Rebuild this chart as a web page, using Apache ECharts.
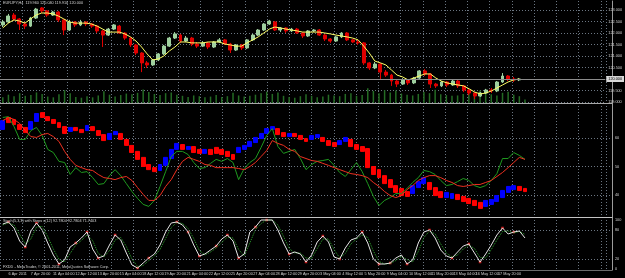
<!DOCTYPE html>
<html><head><meta charset="utf-8">
<script src="https://cdn.jsdelivr.net/npm/echarts@6/dist/echarts.min.js"></script>
<style>html,body{margin:0;padding:0;background:#000;}#c{width:625px;height:278px;}</style>
</head><body><div id="c"></div>
<script>
// ---------- DATA ----------
const symbolName = 'EURJPY,H4';
const timeLabels = ['6 Apr 2011','7 Apr 20:00','11 Apr 04:00','12 Apr 12:00','13 Apr 20:00','15 Apr 04:00','18 Apr 12:00','19 Apr 20:00','21 Apr 04:00','22 Apr 12:00','25 Apr 20:00','27 Apr 04:00','28 Apr 12:00','29 Apr 20:00','3 May 04:00','4 May 12:00','5 May 20:00','9 May 04:00','10 May 12:00','11 May 20:00','13 May 04:00','16 May 12:00','17 May 20:00'];
const priceOpen = [122.35,122.48,122.78,122.61,122.39,122.30,122.65,123.09,122.96,122.78,
122.91,122.57,122.13,122.48,122.35,122.48,122.39,122.30,122.09,121.91,
122.17,122.30,122.00,121.78,121.48,121.13,120.70,120.61,120.83,121.09,
121.43,121.78,121.91,121.65,121.78,121.52,121.43,121.57,121.39,121.61,
121.70,121.52,121.26,121.48,121.35,121.70,121.91,122.13,122.39,122.48,
122.13,122.22,122.09,122.17,122.00,121.87,122.09,122.13,121.91,121.74,
121.65,121.83,122.00,121.70,121.61,121.57,120.70,120.48,120.65,120.30,
120.17,119.91,119.78,119.96,119.83,120.04,120.35,120.22,119.78,119.70,
119.87,119.74,119.91,119.70,119.52,119.39,119.26,119.39,119.52,119.48,
119.87,120.13,120.00,119.96];
const priceClose = [122.48,122.74,122.61,122.39,122.30,122.65,123.04,122.96,122.78,122.91,
122.57,122.13,122.48,122.35,122.48,122.39,122.30,122.09,121.91,122.17,
122.35,122.00,121.78,121.48,121.13,120.70,120.61,120.83,121.09,121.43,
121.78,121.96,121.65,121.78,121.52,121.43,121.57,121.39,121.61,121.70,
121.52,121.26,121.48,121.35,121.70,121.91,122.13,122.39,122.52,122.13,
122.22,122.09,122.17,122.00,121.87,122.09,122.13,121.91,121.74,121.65,
121.83,122.00,121.70,121.61,121.57,120.70,120.48,120.65,120.30,120.17,
119.91,119.78,119.96,119.83,120.04,120.35,120.22,119.78,119.70,119.87,
119.74,119.91,119.70,119.52,119.39,119.26,119.39,119.52,119.48,119.87,
120.13,120.00,119.96,120.00];
const priceLow = [122.26,122.43,122.52,122.13,122.17,122.26,122.61,122.87,122.70,122.74,
122.48,121.91,122.09,122.26,122.30,122.30,122.22,122.00,121.39,121.87,
122.13,121.96,121.70,121.39,121.04,120.30,120.48,120.57,120.78,121.04,
121.39,121.74,121.57,121.61,121.43,121.35,121.39,121.30,121.35,121.57,
121.48,121.13,121.22,121.26,121.30,121.65,121.87,122.09,122.35,122.09,
122.04,122.00,122.04,121.96,121.78,121.83,122.04,121.87,121.65,121.57,
121.61,121.78,121.65,121.57,121.48,120.61,120.39,120.43,119.96,120.09,
119.70,119.65,119.74,119.74,119.78,120.00,120.13,119.61,119.61,119.65,
119.65,119.70,119.61,119.43,119.30,119.13,119.22,119.35,119.39,119.43,
119.83,119.91,119.87,119.91];
const priceHigh = [122.57,122.83,122.87,122.65,122.48,122.70,123.09,123.13,123.00,122.96,
122.96,122.61,122.57,122.52,122.57,122.52,122.43,122.35,122.13,122.22,
122.39,122.35,122.04,121.83,121.52,121.17,120.78,120.87,121.13,121.48,
121.83,122.04,121.96,121.87,121.83,121.61,121.65,121.61,121.65,121.78,
121.74,121.57,121.52,121.52,121.74,121.96,122.17,122.43,122.57,122.52,
122.26,122.26,122.22,122.22,122.04,122.13,122.17,122.17,121.96,121.78,
121.87,122.04,122.04,121.74,121.70,121.61,120.74,120.74,120.70,120.39,
120.22,119.96,120.04,120.00,120.09,120.39,120.43,120.26,119.83,119.91,
119.91,119.96,119.96,119.74,119.57,119.43,119.43,119.57,119.61,119.91,
120.26,120.17,120.09,120.04];
const priceMA = [122.22,122.43,122.57,122.52,122.43,122.61,122.78,122.87,122.87,122.83,
122.74,122.61,122.48,122.43,122.43,122.43,122.39,122.30,122.17,122.04,
122.04,122.04,121.96,121.83,121.65,121.39,121.09,120.83,120.87,121.00,
121.22,121.39,121.61,121.61,121.57,121.57,121.57,121.61,121.61,121.61,
121.52,121.48,121.43,121.43,121.57,121.70,121.83,122.00,122.17,122.26,
122.22,122.17,122.13,122.09,122.04,122.04,122.04,122.04,122.00,121.96,
121.91,121.87,121.83,121.78,121.70,121.43,121.13,120.78,120.70,120.61,
120.39,120.17,120.09,119.96,120.04,120.13,120.22,120.22,120.04,119.91,
119.83,119.78,119.74,119.70,119.57,119.43,119.35,119.39,119.48,119.61,
119.74,119.87,119.96,120.00];
const volume = [1500,2200,1800,2600,1900,2100,2800,2400,1700,1500,
2300,3400,2600,1600,1400,1800,1500,2000,3100,2200,
1700,2100,2500,2300,2700,3600,2900,2400,2100,2600,
2800,2200,1900,1600,2000,1800,1500,1700,2100,1600,
1800,2700,2000,1700,1900,2200,2600,3000,2400,2800,
1900,1600,1400,1800,2300,1900,1500,1700,2200,2000,
1800,2400,2600,1900,2100,3900,3200,2600,3400,2800,
3300,2500,2200,2000,2400,2900,2600,3500,2300,2100,
1900,2000,2400,2700,2900,3300,2800,2300,2000,2700,
3000,2200,1800,900];
const oscOpen = [63.0,67.2,66.5,64.7,63.7,63.0,65.8,68.9,67.5,66.5,
65.4,64.0,62.3,63.7,63.0,62.6,64.0,62.6,61.2,59.5,
61.2,61.6,59.5,57.4,55.3,53.2,50.7,49.6,48.6,50.4,
52.8,56.0,57.7,56.0,57.0,56.0,54.6,56.0,56.7,56.0,
55.3,54.2,54.9,56.0,57.0,58.4,59.8,61.6,63.0,63.3,
61.9,60.5,61.6,60.9,59.8,59.5,60.2,60.2,59.1,58.4,
57.7,58.8,59.5,57.7,57.0,56.3,50.0,48.9,46.8,45.4,
43.3,42.3,41.2,40.5,42.6,44.0,44.4,42.6,41.2,39.1,
38.8,40.2,39.5,38.8,38.1,37.4,36.0,36.7,37.7,39.1,
40.9,41.9,43.0,42.3];
const oscClose = [66.1,65.4,64.7,63.0,61.9,65.8,68.6,67.2,66.1,65.1,
63.7,61.6,63.7,62.6,61.9,64.4,62.6,60.9,59.1,61.6,
62.3,59.5,57.4,54.9,52.5,50.0,48.9,48.2,50.7,53.2,
56.0,58.1,56.0,57.0,54.9,54.6,56.0,54.2,54.6,54.2,
53.5,52.5,56.7,57.4,58.8,60.2,61.6,63.3,64.0,61.2,
60.5,61.6,60.5,59.5,58.8,60.9,61.2,58.8,57.4,57.0,
59.1,60.2,57.0,56.0,55.3,49.6,47.2,46.1,44.0,42.6,
40.9,39.8,39.5,43.3,44.7,46.1,41.9,39.8,39.1,40.9,
40.5,38.4,37.7,37.0,36.3,35.3,38.1,38.4,39.8,41.6,
43.0,43.3,41.6,41.2];
const oscFast = [67.2,67.5,64.0,59.5,59.5,62.6,63.7,60.9,56.0,54.9,
51.8,51.4,47.2,49.6,47.9,48.2,46.1,43.7,44.0,46.8,
48.9,46.8,44.0,41.2,38.8,36.7,36.0,38.1,43.0,48.2,
53.5,55.3,55.3,54.2,51.4,49.3,49.6,51.1,52.5,51.8,
52.8,51.4,45.4,49.3,51.4,52.8,56.7,60.9,63.3,57.0,
54.6,55.3,56.0,52.8,48.9,50.7,51.8,52.1,52.5,50.4,
47.9,46.5,48.9,51.4,48.2,44.0,39.5,36.3,38.1,39.1,
40.5,40.5,42.3,44.4,46.1,48.6,48.2,47.2,45.1,43.3,
43.7,44.7,45.8,45.1,43.3,42.6,43.3,45.1,47.5,52.8,
52.8,54.9,53.9,52.5];
const oscSlow = [66.1,67.2,66.5,65.1,62.6,60.5,60.2,61.2,61.6,60.5,
58.8,55.3,52.5,50.4,49.6,48.9,48.6,47.2,46.1,45.8,
45.4,46.1,46.5,45.1,42.6,40.2,38.1,38.1,39.8,43.0,
45.4,48.9,51.8,53.2,52.5,51.8,50.7,50.4,49.6,49.6,
49.6,49.6,49.3,48.9,50.0,51.4,53.5,55.6,59.1,58.1,
57.4,56.0,55.3,53.5,52.8,52.1,51.8,51.1,50.4,49.6,
48.9,48.2,47.5,47.2,46.8,46.1,44.4,43.0,41.2,39.8,
39.1,39.8,41.9,43.3,45.1,46.1,46.8,46.8,46.1,45.1,
44.4,43.3,43.0,43.3,43.7,43.7,44.4,45.1,46.5,47.9,
49.6,51.4,53.2,52.5];
const stochMain = [91.8,95.9,83.7,57.1,44.9,77.6,93.9,79.6,53.1,28.6,
10.2,18.4,44.9,53.1,63.3,75.5,40.8,22.4,26.5,49.0,
69.4,59.2,32.7,8.2,2.0,12.2,22.4,30.6,49.0,75.5,
93.9,95.9,89.8,75.5,49.0,26.5,30.6,38.8,46.9,61.2,
69.4,57.1,22.4,30.6,75.5,85.7,100,100,100,79.6,
53.1,30.6,34.7,30.6,14.3,28.6,55.1,67.3,55.1,24.5,
20.4,42.9,59.2,63.3,75.5,53.1,20.4,10.2,10.2,12.2,
22.4,28.6,10.2,18.4,53.1,75.5,79.6,63.3,38.8,26.5,
22.4,34.7,46.9,51.0,32.7,14.3,30.6,49.0,69.4,83.7,
71.4,75.5,77.6,63.3];
const stochSignal = [90.0,93.9,89.8,70.4,51.0,61.3,85.8,86.8,66.4,40.9,
19.4,14.3,31.7,49.0,58.2,69.4,58.2,31.6,24.5,37.8,
59.2,64.3,46.0,20.5,5.1,7.1,17.3,26.5,39.8,62.3,
84.7,94.9,92.9,82.7,62.3,37.8,28.6,34.7,42.9,54.1,
65.3,63.3,39.8,26.5,53.1,80.6,92.9,100,100,89.8,
66.4,41.9,32.7,32.7,22.5,21.5,41.9,61.2,61.2,39.8,
22.5,31.7,51.1,61.3,69.4,64.3,36.8,15.3,10.2,11.2,
17.3,25.5,19.4,14.3,35.8,64.3,77.6,71.5,51.1,32.7,
24.5,28.6,40.8,49.0,41.9,23.5,22.5,39.8,59.2,76.6,
77.6,73.5,76.6,70.5];
const stochSteps = [[1,95.9],[4,44.9],[6,93.9],[10,10.2],[13,53.1],[15,75.5],[17,22.4],[20,69.4],[24,2.0],[26,22.4],
[31,95.9],[33,75.5],[35,26.5],[38,46.9],[40,69.4],[42,22.4],[45,85.7],[47,100],[51,30.6],[54,14.3],
[57,67.3],[60,20.4],[64,75.5],[67,10.2],[69,12.2],[72,10.2],[76,79.6],[80,22.4],[83,51.0],[85,14.3],[89,83.7],[91,75.5]];
const stochLevels = [20, 80];
const stochTitle = 'Stoch(5,3,3) with Steps x(12) 92.7804 92.7804 71.7403';
const footerText = 'FXDD - MetaTrader, \u00a9 2001-2011, MetaQuotes Software Corp.';
const totalSlots = 109; // bar slots incl. empty chart shift on the right

// ---------- BUILD ----------
const cats = [];
for (let i = 0; i < totalSlots; i++) {
  if (i === 0) cats.push(timeLabels[0]);
  else if (i % 4 === 0 && i / 4 < timeLabels.length) cats.push(timeLabels[i / 4]);
  else cats.push('');
}
const frameCats = [''].concat(cats);
const candles = priceOpen.map((o, i) => [o, priceClose[i], priceLow[i], priceHigh[i]]);
const oscBars = oscOpen.map((o, i) => [o, oscClose[i], Math.min(o, oscClose[i]), Math.max(o, oscClose[i])]);
const last = candles.length - 1;
const header = symbolName + '  ' + [priceOpen[last], priceHigh[last], priceLow[last], priceClose[last]].map(v => v.toFixed(3)).join(' ');

const FONT = 'Liberation Sans';
const TXT = '#d2d2d2';
const gridDot = { color: '#6b7682', type: [1, 2], width: 1 };
const small = 3.8;
const PLOT_W = 612;
const slotW = PLOT_W / totalSlots;

const catAxis = (gi, extra) => Object.assign({
  type: 'category', gridIndex: gi, data: cats, boundaryGap: true,
  axisLine: { show: false }, axisTick: { show: false }, axisLabel: { show: false }, splitLine: { show: false }
}, extra);

const option = {
  backgroundColor: '#000000',
  animation: false,
  textStyle: { fontFamily: FONT },
  title: [
    { text: header, left: 3, top: 1, padding: 0, textStyle: { color: TXT, fontSize: small, fontWeight: 'normal', fontFamily: FONT } },
    { text: stochTitle, left: 3, top: 219, padding: 0, textStyle: { color: TXT, fontSize: small, fontWeight: 'normal', fontFamily: FONT } },
    { text: footerText, left: 3, top: 265, padding: 0, textStyle: { color: TXT, fontSize: small, fontWeight: 'normal', fontFamily: FONT } }
  ],
  grid: [
    { left: 0, width: PLOT_W, top: 10, height: 92 },
    { left: 0, width: PLOT_W, top: 86, height: 17 },
    { left: 0, width: PLOT_W, top: 138, height: 57 },
    { left: 0, width: PLOT_W, top: 220, height: 49 },
    { left: -slotW, width: PLOT_W + slotW, top: 1, height: 269 }
  ],
  xAxis: [
    catAxis(0, { show: false }),
    catAxis(1, { axisLine: { show: true, lineStyle: { color: '#a8a8a8', width: 1 } } }),
    catAxis(2, { offset: 22, axisLine: { show: true, lineStyle: { color: '#c4c4c4', width: 1 } } }),
    catAxis(3, { show: false }),
    catAxis(4, {
      data: frameCats,
      axisLine: { show: true, lineStyle: { color: '#6a6a6a', width: 1 } },
      axisLabel: { show: true, interval: 0, align: 'left', color: TXT, fontSize: small, margin: 2, fontFamily: FONT },
      splitLine: { show: true, interval: 3, lineStyle: gridDot }
    })
  ],
  yAxis: [
    { type: 'value', gridIndex: 0, min: 119, max: 123, interval: 0.5, position: 'right',
      axisLine: { show: false }, axisTick: { show: false },
      axisLabel: { color: TXT, fontSize: small, margin: 3, fontFamily: FONT, formatter: v => v.toFixed(3) },
      splitLine: { show: true, lineStyle: gridDot } },
    { type: 'value', gridIndex: 1, min: 0, max: 4500, show: false, splitLine: { show: false } },
    { type: 'value', gridIndex: 2, min: 40, max: 60, interval: 10, position: 'right',
      axisLine: { show: false }, axisTick: { show: false },
      axisLabel: { color: TXT, fontSize: small, margin: 3, fontFamily: FONT },
      splitLine: { show: true, lineStyle: gridDot } },
    { type: 'value', gridIndex: 3, min: 0, max: 100, interval: 20, position: 'right',
      axisLine: { show: false }, axisTick: { show: false },
      axisLabel: { color: TXT, fontSize: small, margin: 3, fontFamily: FONT, formatter: v => (v === 40 || v === 60) ? '' : String(v) },
      splitLine: { show: false } },
    { type: 'value', gridIndex: 4, min: 0, max: 1, position: 'right',
      axisLine: { show: true, lineStyle: { color: '#9c9c9c', width: 1 } }, axisTick: { show: false },
      axisLabel: { show: false }, splitLine: { show: false } }
  ],
  series: [
    { type: 'bar', xAxisIndex: 1, yAxisIndex: 1, data: volume, barWidth: 1.5, silent: true,
      itemStyle: { color: '#246b24' } },
    { type: 'candlestick', xAxisIndex: 0, yAxisIndex: 0, data: candles, barWidth: 3.4, clip: false, silent: true,
      itemStyle: { color: '#9fd09f', color0: '#e00000', borderColor: '#9fd09f', borderColor0: '#e00000', borderWidth: 1 },
      markLine: { silent: true, symbol: 'none', animation: false,
        lineStyle: { color: '#8c8c8c', type: 'solid', width: 1 },
        label: { position: 'end', distance: 1, formatter: p => p.value.toFixed(3), color: '#000', backgroundColor: '#d8d8d8', padding: [1, 2], fontSize: small, fontFamily: FONT },
        data: [{ yAxis: priceClose[last] }] } },
    { type: 'line', xAxisIndex: 0, yAxisIndex: 0, data: priceMA, symbol: 'none', clip: false, silent: true,
      lineStyle: { color: '#ffff66', width: 1 } },
    { type: 'candlestick', xAxisIndex: 2, yAxisIndex: 2, data: oscBars, barWidth: 4.4, clip: false, silent: true,
      itemStyle: { color: '#0000ff', color0: '#ff0000', borderColor: '#0000ff', borderColor0: '#ff0000', borderWidth: 1 } },
    { type: 'line', xAxisIndex: 2, yAxisIndex: 2, data: oscFast, symbol: 'none', clip: false, silent: true,
      lineStyle: { color: '#1f9a1f', width: 1 } },
    { type: 'line', xAxisIndex: 2, yAxisIndex: 2, data: oscSlow, symbol: 'none', clip: false, silent: true,
      lineStyle: { color: '#f03020', width: 1 } },
    { type: 'line', xAxisIndex: 3, yAxisIndex: 3, data: stochSignal, symbol: 'none', clip: false, silent: true,
      lineStyle: { color: '#2ea52e', width: 1, type: [1, 1] } },
    { type: 'line', xAxisIndex: 3, yAxisIndex: 3, data: stochMain, symbol: 'none', clip: false, silent: true,
      lineStyle: { color: '#e6e6e6', width: 1 },
      markLine: { silent: true, symbol: 'none', animation: false, label: { show: false },
        lineStyle: { color: '#6b7682', type: [1, 2], width: 1 },
        data: stochLevels.map(v => ({ yAxis: v })) } },
    { type: 'scatter', xAxisIndex: 3, yAxisIndex: 3, data: stochSteps, symbol: 'rect', symbolSize: 2.5, silent: true,
      itemStyle: { color: '#ff2a2a' } }
  ]
};
const chart = echarts.init(document.getElementById('c'), null, { renderer: 'canvas' });
chart.setOption(option);
</script>
</body></html>
